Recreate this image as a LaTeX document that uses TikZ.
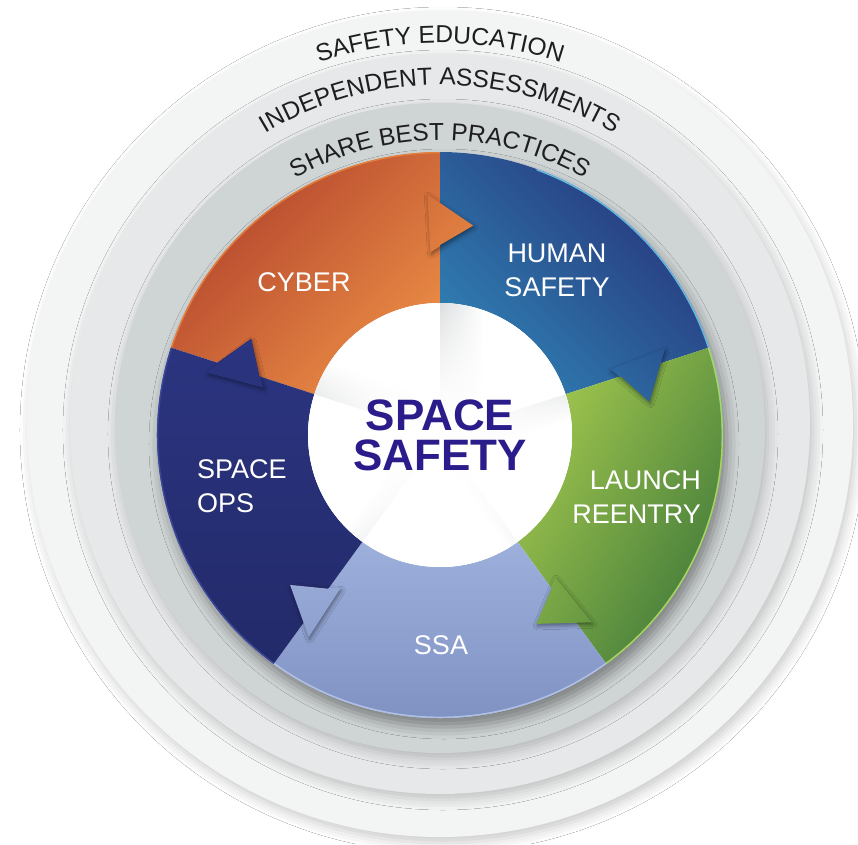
\documentclass[tikz,border=0pt]{standalone}
\usepackage{fontspec}
\setmainfont{Liberation Sans}
\usetikzlibrary{decorations.text,shadows.blur,fadings}

\definecolor{ringouter}{HTML}{F3F4F4}
\definecolor{ringmid}{HTML}{E6E8E9}
\definecolor{ringinner}{HTML}{CFD4D5}
\definecolor{ringink}{HTML}{1E1E1E}
\definecolor{cyberdark}{HTML}{B2432D}
\definecolor{cyberlight}{HTML}{EE9146}
\definecolor{cyberrim}{HTML}{E27D3C}
\definecolor{humandark}{HTML}{27347A}
\definecolor{humanlight}{HTML}{2F80B3}
\definecolor{humanrim}{HTML}{62B9E3}
\definecolor{launchlight}{HTML}{A2C74E}
\definecolor{launchdark}{HTML}{3C7639}
\definecolor{launchrim}{HTML}{A9D65E}
\definecolor{ssalight}{HTML}{9DB0DC}
\definecolor{ssadark}{HTML}{7D8FC0}
\definecolor{ssarim}{HTML}{AFC0E8}
\definecolor{opsnavy}{HTML}{2B3580}
\definecolor{opsdark}{HTML}{232A6A}
\definecolor{opsrim}{HTML}{3A4899}
\definecolor{hubgray}{HTML}{BFC3C6}
\definecolor{hubink}{HTML}{2A1C8A}

\newcommand{\ringfont}{\fontsize{24.5}{30}\selectfont}
% sector with its arrow tip, #1 = counterclockwise edge
\newcommand{\wheelsector}[1]{(#1:283) arc[start angle=#1, end angle=#1-72, radius=283] -- ({#1-72}:234) -- ({#1-81}:212) -- ({#1-72}:190) -- ({#1-72}:132) arc[start angle=#1-72, end angle=#1, radius=132] -- cycle}
\newcommand{\wheeltip}[1]{({#1-69}:241) -- ({#1-81}:212) -- ({#1-69}:183) -- cycle}

\tikzfading[name=hubglow, inner color=transparent!0, outer color=transparent!100]

\tikzset{
  ringshadow/.style={blur shadow={shadow xshift=3pt, shadow yshift=-6pt, shadow blur radius=10pt, shadow opacity=20}},
  tipshadow/.style={blur shadow={shadow xshift=1pt, shadow yshift=-2pt, shadow blur radius=4pt, shadow opacity=45}},
  ringlabel/.style={decorate, decoration={text along path, text align=center, text color=ringink, text={|\ringfont|#1}}},
  sectorlabel/.style={text=white, inner sep=0pt, font=\fontsize{27}{34}\selectfont},
  hublabel/.style={text=hubink, inner sep=0pt, align=center, font=\fontsize{44}{40}\selectfont\bfseries},
  cybershade/.style={left color=cyberdark, right color=cyberlight, shading angle=45},
  humanshade/.style={left color=humanlight, right color=humandark, shading angle=135},
  launchshade/.style={left color=launchlight, right color=launchdark, shading angle=60},
  ssashade/.style={top color=ssalight, bottom color=ssadark},
  opsshade/.style={top color=opsnavy, bottom color=opsdark},
}

\begin{document}
\begin{tikzpicture}[x=1pt, y=1pt]
\useasboundingbox (-440,-409) rectangle (418,435);
\fill[white] (-440,-409) rectangle (418,435);

% outer rings
\fill[ringouter, ringshadow] (0,11) circle (413);
\fill[ringmid, ringshadow] (0,11) circle (370);
\fill[ringinner, ringshadow] (0,7) circle (325);

\path[ringlabel={SAFETY EDUCATION}] (0,11) ++(180:381) arc[start angle=180, end angle=0, radius=381];
\path[ringlabel={INDEPENDENT ASSESSMENTS}] (0,11) ++(180:339) arc[start angle=180, end angle=0, radius=339];
\path[ringlabel={SHARE BEST PRACTICES}] (0,7) ++(180:288) arc[start angle=180, end angle=0, radius=288];

% wheel
\fill[white, blur shadow={shadow xshift=4pt, shadow yshift=-9pt, shadow blur radius=12pt, shadow opacity=40}] (0,0) circle (283);
\shade[cybershade] \wheelsector{162};
\shade[humanshade] \wheelsector{90};
\shade[launchshade] \wheelsector{18};
\shade[ssashade] \wheelsector{-54};
\shade[opsshade] \wheelsector{-126};

% arrow tips on top
\foreach \a/\s in {162/cybershade, 90/humanshade, 18/launchshade, -54/ssashade, -126/opsshade} {
  \path[tipshadow] \wheeltip{\a};
  \begin{scope}
    \clip \wheeltip{\a};
    \shade[\s] \wheelsector{\a};
  \end{scope}
}

\foreach \a/\c in {162/cyberrim, 70/humanrim, 18/launchrim, -54/ssarim, -126/opsrim}
  \draw[\c, line width=1.4pt] (\a:282.3) arc[start angle=\a, end angle=\a-72, radius=282.3];

% hub
\fill[white] (0,0) circle (132);
\foreach \a in {162,90,18,-54,-126}
  \shade[left color=hubgray, right color=white, middle color=white, shading angle=\a] (0,0) -- (\a:132) arc[start angle=\a, end angle=\a-40, radius=132] -- cycle;
\begin{scope}
  \clip (0,0) circle (132);
  \fill[white, path fading=hubglow] (0,0) circle (200);
  \fill[white, path fading=hubglow] (0,0) circle (160);
\end{scope}

\node[sectorlabel] (cyber) at (-136,153) {CYBER};
\node[sectorlabel, align=center] (human) at (117,165) {HUMAN\\SAFETY};
\node[sectorlabel, align=left, anchor=west] (spaceops) at (-243,-51) {SPACE\\OPS};
\node[sectorlabel, align=right, anchor=east] (launch) at (261,-62) {LAUNCH\\REENTRY};
\node[sectorlabel] (ssa) at (1,-210) {SSA};
\node[hublabel] (hub) at (0,0) {SPACE\\SAFETY};
\end{tikzpicture}
\end{document}
